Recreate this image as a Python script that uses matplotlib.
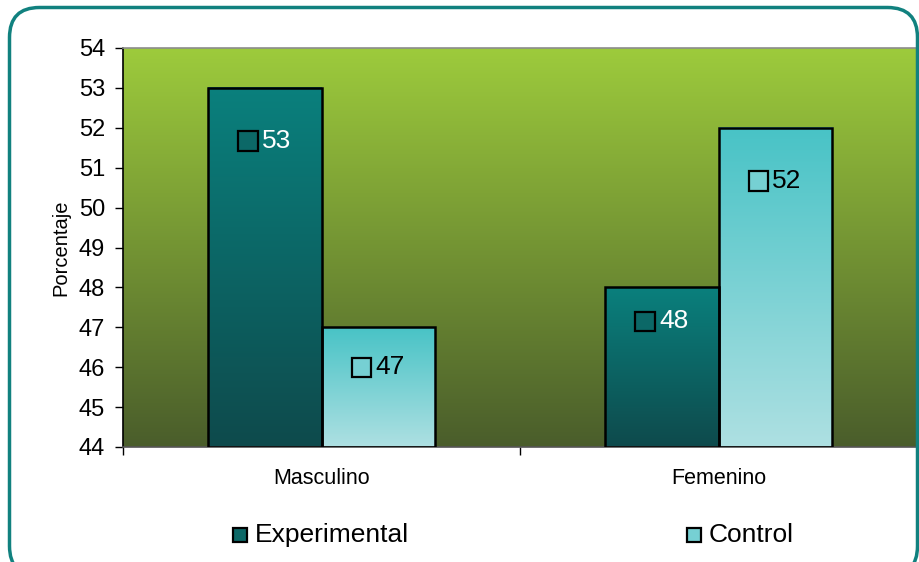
import numpy as np
import matplotlib
matplotlib.use('Agg')
from matplotlib import pyplot as plt
from matplotlib.patches import Rectangle, FancyBboxPatch
from matplotlib.colors import LinearSegmentedColormap
from matplotlib.transforms import IdentityTransform
from matplotlib.offsetbox import DrawingArea, TextArea, HPacker, AnnotationBbox

plt.rcParams['font.family'] = ['Liberation Sans', 'DejaVu Sans']

# datos
categorias = ['Masculino', 'Femenino']
experimental = [53, 48]
control = [47, 52]
series = ['Experimental', 'Control']

# colores (arriba, abajo)
col_exp = ('#0a807d', '#0e4a4c')
col_ctl = ('#48c3c6', '#aee0e2')
col_fondo = ('#9dcb3c', '#4a5d2b')
txt_color = ['white', 'black']
# desplazamiento de las etiquetas bajo el borde superior (px)
desp_etq = [[53, 34], [40, 53]]

fig = plt.figure(figsize=(9.19, 5.62), dpi=100)
ax = fig.add_axes([123 / 919, 1 - 447 / 562, 794 / 919, 399 / 562])

# marco redondeado
marco = FancyBboxPatch((9.5, -14), 908, 568.5, boxstyle='round,pad=0,rounding_size=30',
                       transform=IdentityTransform(), fill=False,
                       edgecolor='#11817f', linewidth=2.5)
fig.patches.append(marco)

ymin, ymax = 44, 54
ax.set_xlim(-0.5, 1.5)
ax.set_ylim(ymin, ymax)

# fondo con degradado
grad = np.linspace(0, 1, 256).reshape(-1, 1)
cm_fondo = LinearSegmentedColormap.from_list('fondo', [col_fondo[1], col_fondo[0]])
ax.imshow(grad, cmap=cm_fondo, aspect='auto', extent=[0, 1, 0, 1],
          transform=ax.transAxes, origin='lower', zorder=0)

ancho = 0.285
x = np.arange(len(categorias))
valores = [experimental, control]
colores = [col_exp, col_ctl]

for s in range(2):
    cm = LinearSegmentedColormap.from_list('b%d' % s, [colores[s][1], colores[s][0]])
    for i in range(len(categorias)):
        xc = x[i] + (s - 0.5) * ancho
        v = valores[s][i]
        g = np.linspace(0, (v - ymin) / (ymax - ymin), 256).reshape(-1, 1)
        ax.imshow(g, cmap=cm, vmin=0, vmax=(v - ymin) / (ymax - ymin), aspect='auto',
                  extent=[xc - ancho / 2, xc + ancho / 2, ymin, v], origin='lower', zorder=2)
        ax.add_patch(Rectangle((xc - ancho / 2, ymin), ancho, v - ymin, fill=False,
                               edgecolor='black', linewidth=1.8, zorder=3))

        # etiqueta con clave
        da = DrawingArea(14, 14, 0, 0)
        da.add_artist(Rectangle((0, 0), 14, 14, facecolor=cm(0.55), edgecolor='black', linewidth=1.6))
        ta = TextArea(str(v), textprops=dict(color=txt_color[s], fontsize=19))
        caja = HPacker(children=[da, ta], align='center', pad=0, sep=3)
        ab = AnnotationBbox(caja, (xc, v), xybox=(0, -desp_etq[s][i]), xycoords='data',
                            boxcoords='offset pixels', frameon=False, zorder=4)
        ax.add_artist(ab)

ax.set_xlim(-0.5, 1.5)
ax.set_ylim(ymin, ymax)
ax.set_yticks(range(44, 55))
ax.tick_params(axis='y', labelsize=17, length=6, width=1, direction='out', pad=7)
ax.set_xticks([-0.5, 0.5, 1.5], minor=False)
ax.set_xticklabels(['', '', ''])
ax.tick_params(axis='x', length=6, width=1, direction='out')
for i, c in enumerate(categorias):
    ax.text(x[i], -0.08, c, transform=ax.get_xaxis_transform(), ha='center', va='center', fontsize=15.5)
ax.set_ylabel('Porcentaje', fontsize=14.5, labelpad=6)

ax.spines['top'].set_color('#8c8c8c')
ax.spines['right'].set_color('#8c8c8c')
ax.spines['bottom'].set_color('#555555')
ax.spines['left'].set_color('black')
for sp in ax.spines.values():
    sp.set_linewidth(1.2)

# leyenda
leg_x = [233, 687]
for s in range(2):
    cm = LinearSegmentedColormap.from_list('l%d' % s, [colores[s][1], colores[s][0]])
    fig.patches.append(Rectangle((leg_x[s], 562 - 542), 14, 14, transform=IdentityTransform(),
                                 facecolor=cm(0.55), edgecolor='black', linewidth=1.6))
    fig.text((leg_x[s] + 22) / 919, 1 - 535 / 562, series[s], ha='left', va='center', fontsize=19)

fig.savefig('out.png', dpi=100)
